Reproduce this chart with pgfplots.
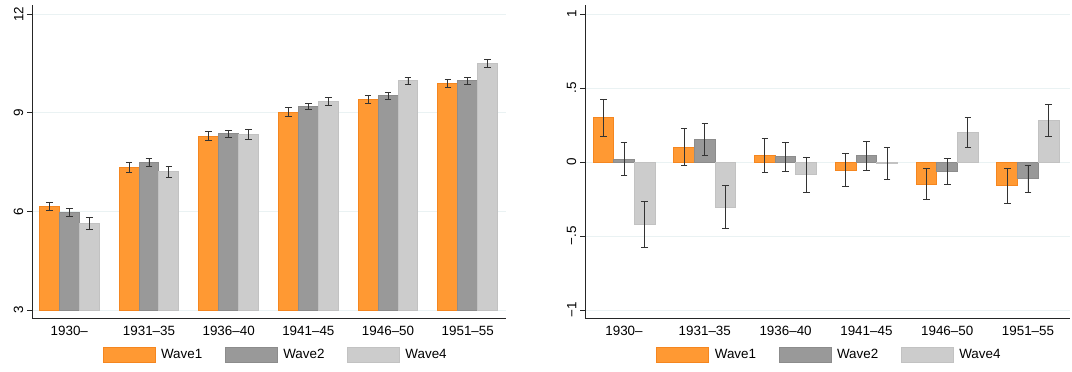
\documentclass[border=0pt]{standalone}
\usepackage{pgfplots}
\pgfplotsset{compat=1.18}
\usepackage{fontspec}
\setmainfont{Liberation Sans}
\definecolor{cOr}{HTML}{FF9933}
\definecolor{cOrE}{HTML}{F5861F}
\definecolor{cG}{HTML}{999999}
\definecolor{cGE}{HTML}{8C8C8C}
\definecolor{cL}{HTML}{CCCCCC}
\definecolor{cLE}{HTML}{C2C2C2}
\definecolor{gridc}{RGB}{234,242,243}
\definecolor{eb}{HTML}{333333}
\newcommand{\fs}{\fontsize{13.4}{16}\selectfont}
\pgfplotsset{
 mystyle/.style={
  scale only axis, height=313pt,
  axis x line*=bottom, axis y line*=left,
  axis line style={line width=0.9pt, color=black!85, -},
  ybar, bar shift=0pt,
  xtick={0,...,5},
  xticklabels={1930--,1931--35,1936--40,1941--45,1946--50,1951--55},
  xtick style={draw=none},
  ymajorgrids, grid style={gridc, line width=1pt},
  ytick style={line width=0.9pt, black!85},
  tick align=outside, major tick length=5pt,
  yticklabel style={xshift=-3.5pt, rotate=90, anchor=south, inner sep=0pt},
  xticklabel style={inner sep=0pt, anchor=north, yshift=-2.5pt},
  tick label style={font=\fs},
  /pgf/number format/assume math mode=true,
  legend columns=3,
  legend style={draw=none, fill=none, font=\fs, anchor=center,
    /tikz/every odd column/.append style={column sep=3.5pt},
    /tikz/every even column/.append style={column sep=20.5pt}},
  legend image code/.code={\draw[##1, line width=1pt] (0pt,-7.5pt) rectangle (52pt,7.5pt);},
  error bars/y dir=both, error bars/y explicit,
  error bars/error bar style={line width=0.9pt, eb},
  error bars/error mark options={rotate=90, mark size=3.3pt, line width=0.9pt, eb},
 },
 s1/.style={fill=cOr, draw=cOrE, line width=1pt},
 s2/.style={fill=cG, draw=cGE, line width=1pt},
 s3/.style={fill=cL, draw=cLE, line width=1pt},
}
\begin{document}
\begin{tikzpicture}
\path[use as bounding box] (0pt,0pt) rectangle (1072pt,-372pt);
\begin{axis}[mystyle, at={(32pt,-318pt)}, anchor=south west,
  width=474pt, xmin=-0.468, xmax=5.48,
  y coord trafo/.code={\pgfmathparse{#1-3}},
  y coord inv trafo/.code={\pgfmathparse{#1+3}},
  ymin=2.757, ymax=12.274, ytick={3,6,9,12},
  bar width=0.25,
  legend style={at={(axis description cs:0.514,-0.118)}}]
\addplot[s1] coordinates {(-0.25,6.15)+-(0,0.13) (0.75,7.33)+-(0,0.15) (1.75,8.29)+-(0,0.13) (2.75,9.02)+-(0,0.13) (3.75,9.39)+-(0,0.12) (4.75,9.89)+-(0,0.13)};
\addplot[s2] coordinates {(0,5.96)+-(0,0.12) (1,7.48)+-(0,0.12) (2,8.36)+-(0,0.11) (3,9.19)+-(0,0.10) (4,9.51)+-(0,0.10) (5,9.97)+-(0,0.10)};
\addplot[s3] coordinates {(0.25,5.63)+-(0,0.18) (1.25,7.20)+-(0,0.16) (2.25,8.34)+-(0,0.14) (3.25,9.34)+-(0,0.11) (4.25,9.97)+-(0,0.11) (5.25,10.50)+-(0,0.11)};
\legend{Wave1,Wave2,Wave4}
\end{axis}
\begin{axis}[mystyle, at={(585pt,-318pt)}, anchor=south west,
  width=485pt, xmin=-0.483, xmax=5.52,
  ymin=-1.054, ymax=1.061, ytick={-1,-0.5,0,0.5,1},
  yticklabels={−1,−.5,0,.5,1},
  bar width=0.256,
  legend style={at={(axis description cs:0.504,-0.118)}}]
\addplot[s1] coordinates {(-0.256,0.298)+-(0,0.123) (0.744,0.101)+-(0,0.127) (1.744,0.045)+-(0,0.114) (2.744,-0.054)+-(0,0.110) (3.744,-0.149)+-(0,0.105) (4.744,-0.162)+-(0,0.116)};
\addplot[s2] coordinates {(0,0.020)+-(0,0.114) (1,0.151)+-(0,0.108) (2,0.036)+-(0,0.098) (3,0.041)+-(0,0.095) (4,-0.063)+-(0,0.087) (5,-0.113)+-(0,0.090)};
\addplot[s3] coordinates {(0.256,-0.419)+-(0,0.155) (1.256,-0.304)+-(0,0.143) (2.256,-0.086)+-(0,0.120) (3.256,-0.007)+-(0,0.108) (4.256,0.201)+-(0,0.100) (5.256,0.280)+-(0,0.110)};
\legend{Wave1,Wave2,Wave4}
\end{axis}
\end{tikzpicture}
\end{document}
